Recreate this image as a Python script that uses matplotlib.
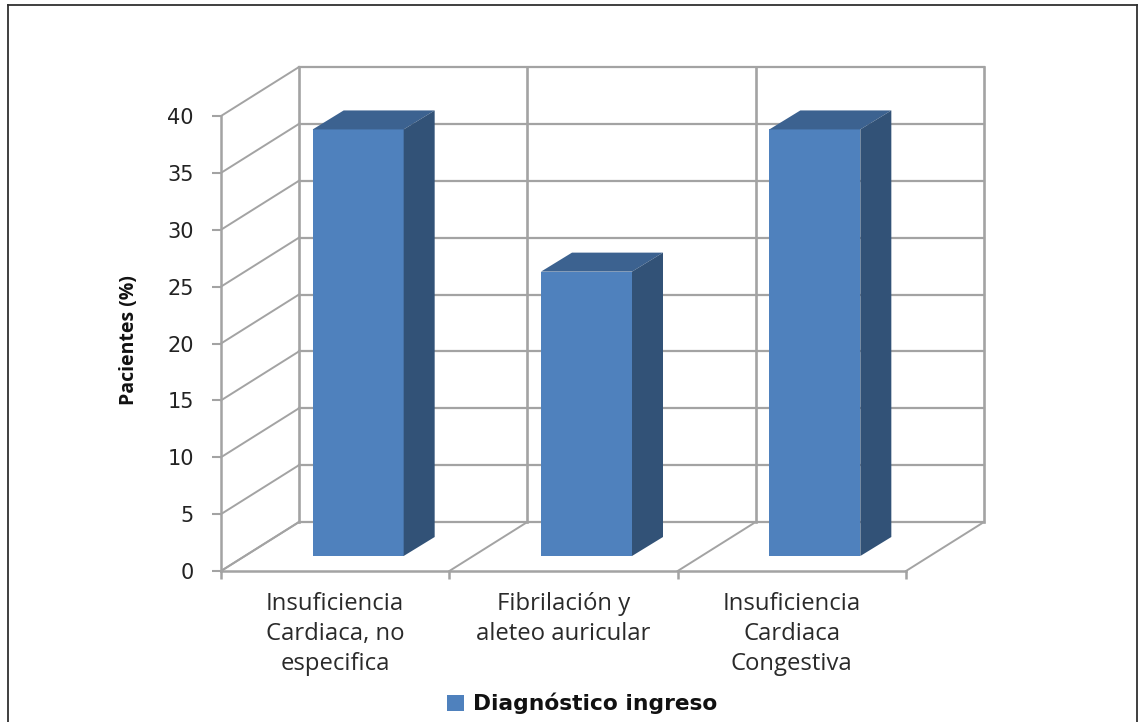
import matplotlib
matplotlib.use('Agg')
import matplotlib.pyplot as plt
from matplotlib.patches import Polygon, Rectangle
from matplotlib.lines import Line2D

# chart data
categories = ['Insuficiencia\nCardiaca, no\nespecifica',
              'Fibrilación y\naleteo auricular',
              'Insuficiencia\nCardiaca\nCongestiva']
pacientes = [37.5, 25, 37.5]
y_ticks = [0, 5, 10, 15, 20, 25, 30, 35, 40]
series_name = 'Diagnóstico ingreso'

W, H = 1139, 722
GRID = '#a3a3a3'
FRONT = '#4f81bd'
TOP = '#3c6290'
SIDE = '#325277'

fig = plt.figure(figsize=(W / 100, H / 100), dpi=100)

# page frame, runs off the bottom edge
for xs, ys in [((8, 8), (0, H - 5)), ((8, 1137), (H - 5, H - 5)), ((1137, 1137), (H - 5, 0))]:
    fig.add_artist(Line2D([x / W for x in xs], [y / H for y in ys], color='#303030', lw=1.3))

# axes box is the front plane of the 3d chart
x0, x1, y_bot, y_top = 221, 906, 571, 116
ax = fig.add_axes([x0 / W, (H - y_bot) / H, (x1 - x0) / W, (y_bot - y_top) / H])
ax.set_xlim(0, 3)
ax.set_ylim(0, 40)
ax.patch.set_visible(False)

# pixels to data units, for the oblique depth direction
px_x = 3 / (x1 - x0)
px_y = 40 / (y_bot - y_top)
depth_x = 78 * px_x
depth_y = 49 * px_y

# back wall grid
for t in y_ticks:
    ax.plot([depth_x, 3 + depth_x], [t + depth_y, t + depth_y], color=GRID, lw=1.6, clip_on=False, zorder=1)
    ax.plot([0, depth_x], [t, t + depth_y], color=GRID, lw=1.4, clip_on=False, zorder=1)
for i in range(4):
    ax.plot([i + depth_x, i + depth_x], [depth_y, 40 + depth_y], color=GRID, lw=1.9, clip_on=False, zorder=1)
    ax.plot([i, i + depth_x], [0, depth_y], color=GRID, lw=1.4, clip_on=False, zorder=1)

# bars: front face through ax.bar, top and side as parallelograms
bar_w = 91 * px_x
front_dx, front_dy = 23 * px_x, 15 * px_y
back_dx, back_dy = 54 * px_x, 34 * px_y
for i, val in enumerate(pacientes):
    left = i + 0.5 + front_dx - bar_w / 2
    right = left + bar_w
    base = front_dy
    top = val + front_dy
    shift_x = back_dx - front_dx
    shift_y = back_dy - front_dy
    ax.bar(left, val, width=bar_w, bottom=base, align='edge', color=FRONT, zorder=3)
    ax.add_patch(Polygon([(left, top), (right, top), (right + shift_x, top + shift_y),
                          (left + shift_x, top + shift_y)], color=TOP, lw=0, zorder=3, clip_on=False))
    ax.add_patch(Polygon([(right, base), (right + shift_x, base + shift_y),
                          (right + shift_x, top + shift_y), (right, top)], color=SIDE, lw=0, zorder=3, clip_on=False))

# axes lines and ticks
for s in ['top', 'right']:
    ax.spines[s].set_visible(False)
for s in ['left', 'bottom']:
    ax.spines[s].set_color(GRID)
    ax.spines[s].set_linewidth(1.8)
    ax.spines[s].set_zorder(2)

ax.set_yticks(y_ticks)
ax.tick_params(axis='y', length=6.5, width=1.5, color=GRID, pad=13, labelsize=15, labelcolor='#222222')
ax.set_xticks([0, 1, 2, 3])
ax.set_xticklabels([])
ax.tick_params(axis='x', which='major', length=6, width=1.8, color=GRID)
ax.set_xticks([0.5, 1.5, 2.5], minor=True)
ax.set_xticklabels(categories, minor=True, fontsize=17.2, family='Open Sans', color='#2a2a2a')
ax.tick_params(axis='x', which='minor', length=0, pad=15)
for lab in ax.get_xticklabels(minor=True):
    lab.set_linespacing(1.34)
    lab.set_verticalalignment('top')

fig.text(129 / W, 1 - 340 / H, 'Pacientes (%)', rotation=90, ha='center', va='center',
         family='Open Sans', fontweight='bold', fontsize=14, color='#111111')

# legend
fig.add_artist(Rectangle((447 / W, 1 - 711 / H), 17 / W, 16 / H, color=FRONT, lw=0, transform=fig.transFigure))
fig.text(473 / W, 1 - 703 / H, series_name, ha='left', va='center',
         family='DejaVu Sans', fontweight='bold', fontsize=15.7, color='#111111')

fig.savefig('out.png', dpi=100)
